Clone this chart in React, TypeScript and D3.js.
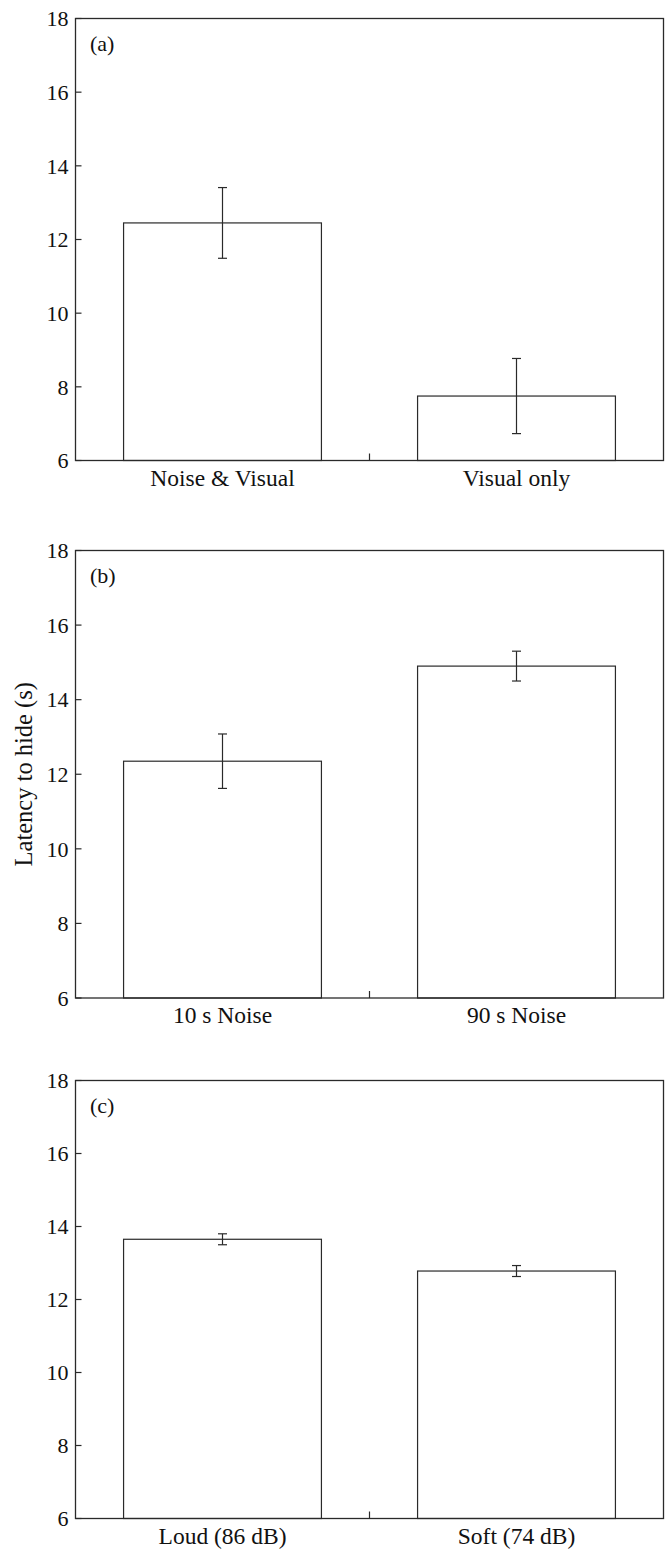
import React from "react";
import * as d3 from "d3";

const yTicks = [6, 8, 10, 12, 14, 16, 18];

const categoriesA = ["Noise & Visual", "Visual only"];
const valuesA = [12.45, 7.75];
const errorsA = [0.96, 1.02];

const categoriesB = ["10 s Noise", "90 s Noise"];
const valuesB = [12.35, 14.9];
const errorsB = [0.73, 0.4];

const categoriesC = ["Loud (86 dB)", "Soft (74 dB)"];
const valuesC = [13.65, 12.78];
const errorsC = [0.15, 0.15];

const panelLabels = ["(a)", "(b)", "(c)"];
const yAxisTitle = "Latency to hide (s)";

const W = 665;
const H = 1549;
const left = 75.5;
const right = 663.5;
const FONT = "'Liberation Serif', 'Times New Roman', serif";
const INK = "#2a2a2a";

const panels = [
  { label: panelLabels[0], cats: categoriesA, vals: valuesA, errs: errorsA, top: 18.5, bottom: 460.5 },
  { label: panelLabels[1], cats: categoriesB, vals: valuesB, errs: errorsB, top: 550.5, bottom: 998 },
  { label: panelLabels[2], cats: categoriesC, vals: valuesC, errs: errorsC, top: 1080.5, bottom: 1518.5 },
];

function Panel({ p, showTitle }: { p: any; showTitle: boolean }) {
  const x = d3.scaleBand<string>().domain(p.cats).range([left, right]).paddingInner(0.327).paddingOuter(0.1635);
  const y = d3.scaleLinear().domain([6, 18]).range([p.bottom, p.top]);
  const bw = x.bandwidth();
  const cap = 4.5;
  return (
    <g>
      {p.cats.map((c: string, i: number) => {
        const x0 = x(c)!;
        const cx = x0 + bw / 2;
        const v = p.vals[i];
        const e = p.errs[i];
        return (
          <g key={c}>
            <rect x={x0} y={y(v)} width={bw} height={y(6) - y(v)} fill="#fff" stroke={INK} strokeWidth={1.2} />
            <line x1={cx} x2={cx} y1={y(v + e)} y2={y(v - e)} stroke={INK} strokeWidth={1.2} />
            <line x1={cx - cap} x2={cx + cap} y1={y(v + e)} y2={y(v + e)} stroke={INK} strokeWidth={1.2} />
            <line x1={cx - cap} x2={cx + cap} y1={y(v - e)} y2={y(v - e)} stroke={INK} strokeWidth={1.2} />
            <text x={cx} y={p.bottom + 25} textAnchor="middle" fontFamily={FONT} fontSize={23.5} fill="#111">
              {c}
            </text>
          </g>
        );
      })}
      <rect x={left} y={p.top} width={right - left} height={p.bottom - p.top} fill="none" stroke={INK} strokeWidth={1.3} />
      {yTicks.map((t) => (
        <g key={t}>
          <line x1={left} x2={left + 6} y1={y(t)} y2={y(t)} stroke={INK} strokeWidth={1.2} />
          <text x={left - 7} y={y(t)} dy="0.35em" textAnchor="end" fontFamily={FONT} fontSize={22} fill="#111">
            {t}
          </text>
        </g>
      ))}
      <line x1={(left + right) / 2} x2={(left + right) / 2} y1={p.bottom} y2={p.bottom - 7} stroke={INK} strokeWidth={1.2} />
      <text x={left + 14.5} y={p.top + 32} fontFamily={FONT} fontSize={22} fill="#111">
        {p.label}
      </text>
      {showTitle && (
        <text
          transform={`translate(32, ${(p.top + p.bottom) / 2}) rotate(-90)`}
          textAnchor="middle"
          fontFamily={FONT}
          fontSize={24.5}
          fill="#111"
        >
          {yAxisTitle}
        </text>
      )}
    </g>
  );
}

export default function App() {
  return (
    <svg width={W} height={H} style={{ position: "absolute", left: 0, top: 0, background: "#fff" }}>
      <rect x={0} y={0} width={W} height={H} fill="#fff" />
      {panels.map((p, i) => (
        <Panel key={i} p={p} showTitle={i === 1} />
      ))}
    </svg>
  );
}
